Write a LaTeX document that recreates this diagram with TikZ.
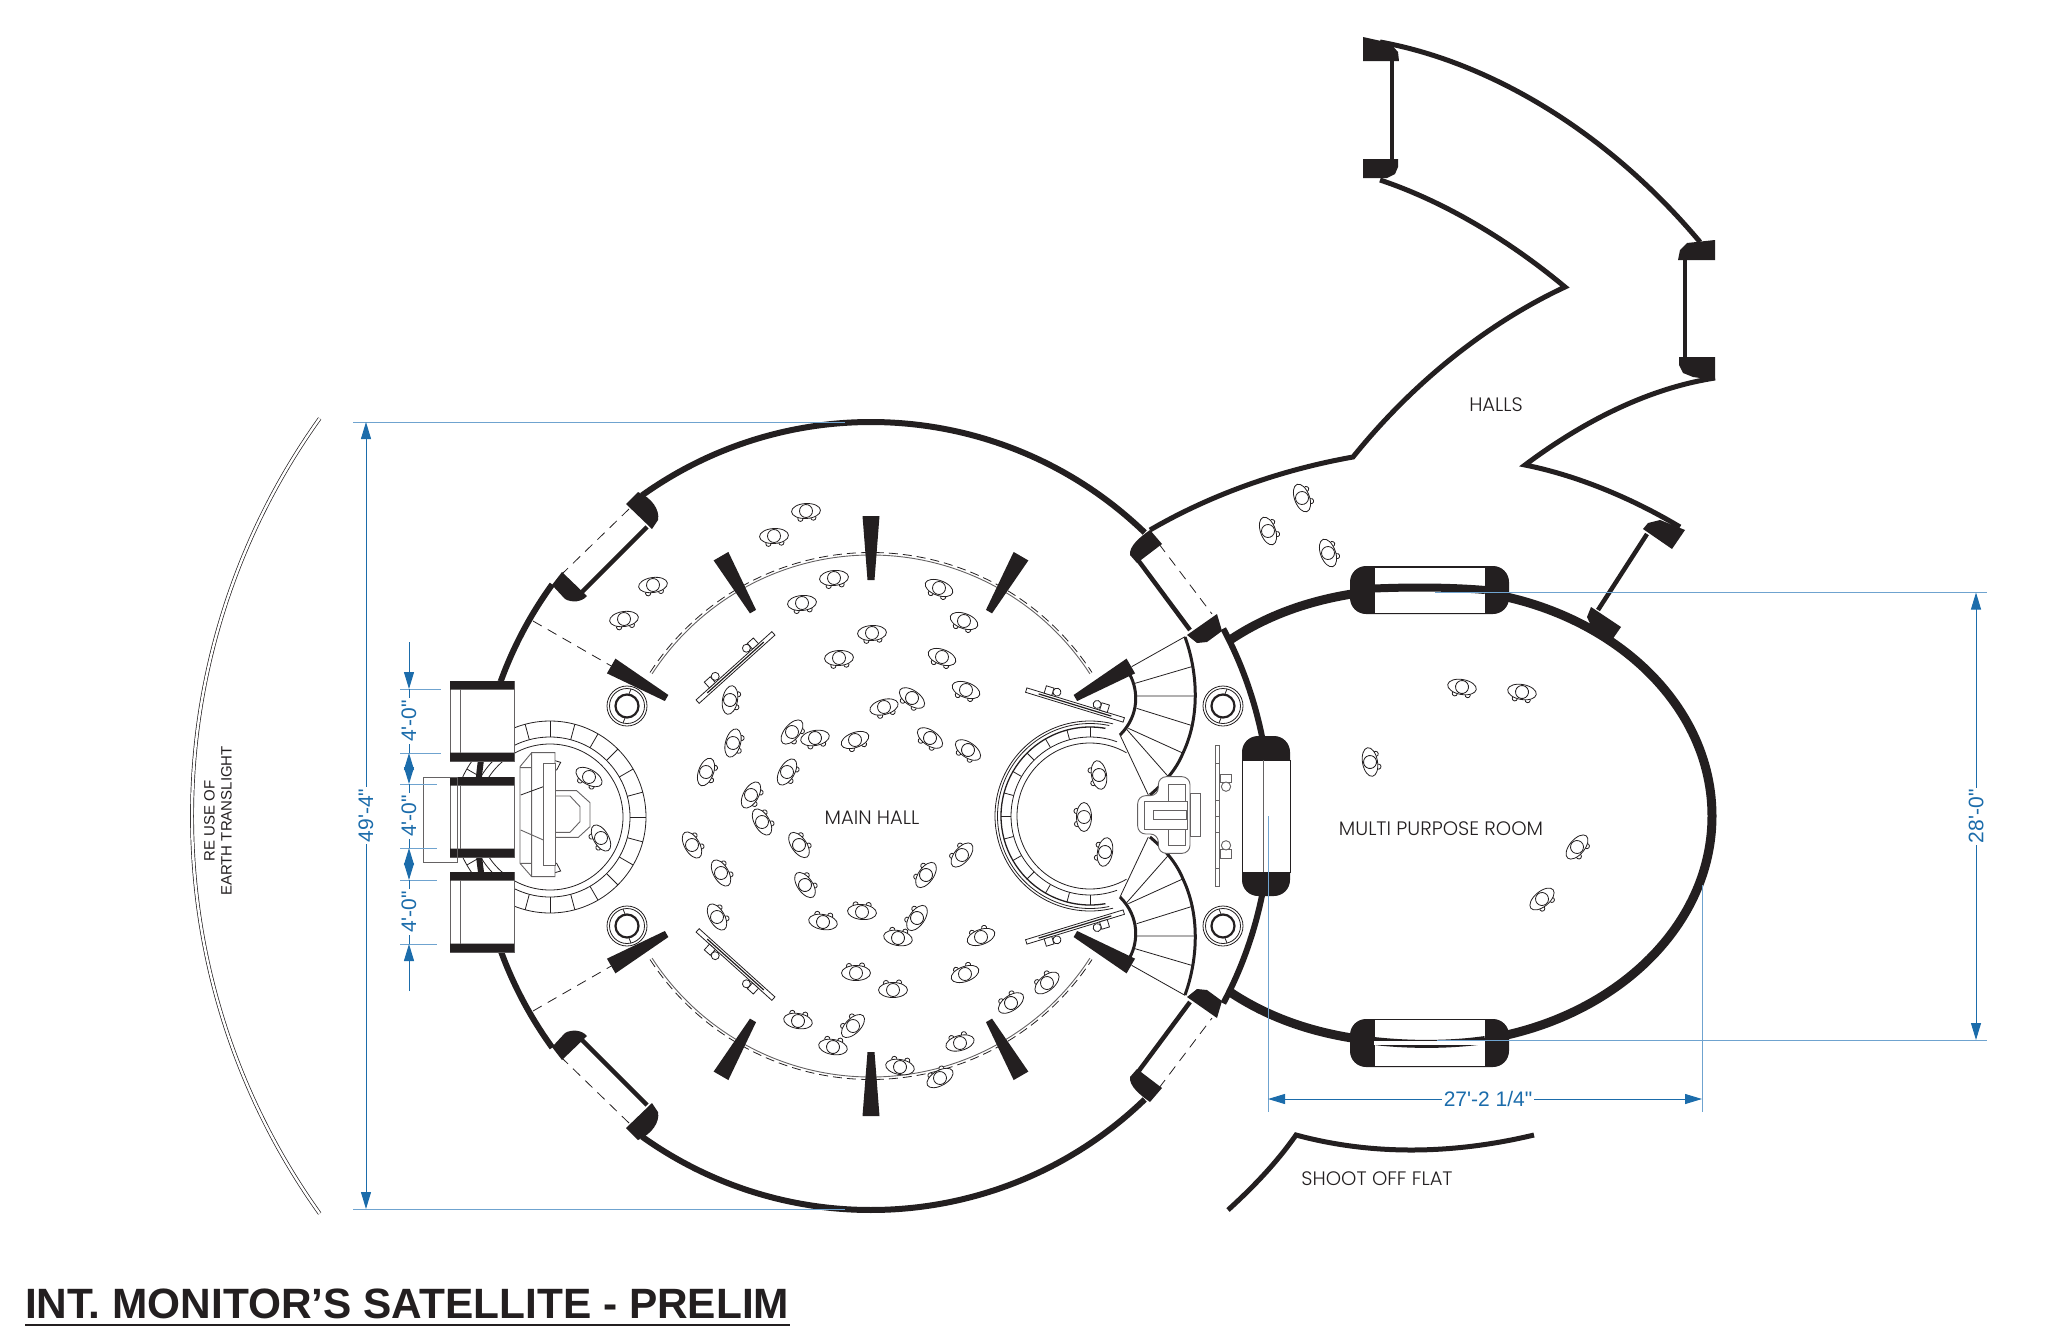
\documentclass[tikz,border=0pt]{standalone}
\usepackage{fontspec}
\setmainfont{Liberation Sans}
\newfontfamily\dimfont{Liberation Sans}
\newfontfamily\planfont{Poppins Light}
\usetikzlibrary{arrows.meta}
\definecolor{ink}{HTML}{231F20}
\definecolor{dimblue}{HTML}{1B6CAB}
\definecolor{extblue}{HTML}{6FA3CF}
\tikzset{
  wall/.style = {draw=ink, line width=6pt},
  roomwall/.style = {draw=ink, line width=9pt},
  hallwall/.style = {draw=ink, line width=5pt},
  doorbar/.style = {draw=ink, line width=4.5pt},
  stairwall/.style = {draw=ink, line width=3pt},
  thinline/.style = {draw=ink, line width=0.8pt},
  grayline/.style = {draw=ink!70, line width=0.9pt},
  swing/.style = {draw=ink, line width=0.8pt, dash pattern=on 10pt off 7pt},
  jamb/.style = {fill=ink},
  extline/.style = {draw=extblue, line width=0.9pt},
  dimline/.style = {draw=dimblue, line width=1pt, {Triangle[length=17pt,width=10pt]}-{Triangle[length=17pt,width=10pt]}},
  dimend/.style = {draw=dimblue, line width=1pt, -{Triangle[length=17pt,width=10pt]}},
  dimlabel/.style = {text=dimblue, fill=white, inner sep=2pt, font=\dimfont\fontsize{21}{24}\selectfont},
  planlabel/.style = {text=ink, inner sep=0pt, font=\planfont\fontsize{19.5}{22}\selectfont},
  leftend/.style = {shift={(400,600)}, scale=1/3},
  rightend/.style = {shift={(1000,620)}, scale=1/3}
}
\newcommand{\person}[3]{%
  \begin{scope}[shift={(#1,#2)}, rotate=#3]
    \draw[thinline, fill=white] (-6,7.5) circle (2.6);
    \draw[thinline, fill=white] (7,7) circle (2.6);
    \draw[thinline, fill=white] (0,0) ellipse (14.5 and 7.5);
    \draw[thinline, fill=white] (0,0) circle (6.5);
  \end{scope}}
\newcommand{\hallwedge}[1]{%
  \begin{scope}[shift={(hall)}, rotate=#1]
    \fill[ink] (236,-3.5) -- (236,3.5) -- (300,8.5) -- (300,-8.5) -- cycle;
  \end{scope}}
\newcommand{\roundcolumn}[2]{%
  \begin{scope}[shift={(#1,#2)}]
    \draw[thinline] (0,0) circle (20);
    \draw[thinline] (0,0) circle (17.5);
    \draw[draw=ink, line width=2.2pt] (0,0) circle (11.5);
    \draw[thinline] (2,-12) -- (4,-17) (-2,12) -- (-4,17);
  \end{scope}}
\newcommand{\bench}[3]{%
  \begin{scope}[shift={(#1,#2)}, rotate=#3]
    \draw[thinline, fill=white] (-51,-2.3) rectangle (51,2.3);
    \draw[draw=ink, line width=1.2pt] (-38,0) -- (38,0);
    \draw[thinline, fill=white] (-33,-2.3) rectangle (-25,-10);
    \draw[thinline, fill=white] (-21,-7) circle (4);
    \draw[thinline, fill=white] (33,-2.3) rectangle (25,-10);
    \draw[thinline, fill=white] (21,-7) circle (4);
  \end{scope}}
\newcommand{\wallpanel}[1]{%
  \begin{scope}[shift={(450,#1)}]
    \draw[grayline, fill=white] (0,0) rectangle (64,80);
    \fill[ink] (0,0) rectangle (64,8.5) (0,71.5) rectangle (64,80);
    \draw[grayline] (10,8) -- (10,72);
  \end{scope}}
\newcommand{\halfplan}{%
  \draw[wall] (hall) ++(-46:394) arc (-46:-125.5:394);
  \draw[wall] (hall) ++(-144:394) arc (-144:-160:394);
  \draw[wall] (hall) ++(-28:399) arc (-28:-11.5:399);
  \draw[grayline] (hall) ++(-147:261) arc (-147:-33:261);
  \draw[thinline, dash pattern=on 9pt off 5pt] (hall) ++(-147:263.5) arc (-147:-33:263.5);
  \hallwedge{-150}
  \hallwedge{-120}
  \hallwedge{-90}
  \hallwedge{-60}
  \hallwedge{-30}
  \fill[jamb] (626,504) -- (638,492) .. controls (652,498) and (660,510) .. (658,520) -- (652,529) -- cycle;
  \fill[jamb] (552,585) -- (562,572) -- (587,596) .. controls (582,602) and (572,603) .. (565,599) -- cycle;
  \draw[doorbar] (647,527) -- (582,592);
  \draw[swing] (629,509) -- (563,573);
  \draw[swing] (533,621) -- (613,667);
  \fill[jamb] (1150,530) -- (1162,544) -- (1137,563) -- (1130,555) .. controls (1129,546) and (1140,537) .. cycle;
  \fill[jamb] (1187,635) -- (1197,643) -- (1207,642) -- (1222,631) -- (1217,614) -- cycle;
  \draw[doorbar] (1138,560) -- (1190,630);
  \draw[swing] (1159,544) -- (1212,614);
  \roundcolumn{627}{706}
  \roundcolumn{1223}{706}
  \bench{735.5}{667.5}{-42}
  \bench{1075}{705}{17}
  \begin{scope}[rightend]
    \draw[thinline] (395,140) -- (555,50) (405,190) -- (575,140) (410,228) -- (590,228)
      (410,265) -- (580,318) (385,325) -- (550,400) (380,328) -- (505,470) (360,345) -- (445,525);
    \draw[grayline, fill=white] (645,377) rectangle (659,588);
    \draw[grayline] (645,430) -- (659,430) (645,540) -- (659,540);
    \draw[grayline] (660,462) rectangle (693,488);
    \draw[grayline, fill=white] (678,500) circle (14);
  \end{scope}
  \draw[stairwall] (1185,637) .. controls (1197,670) and (1201,715) .. (1183,753)
    .. controls (1176,770) and (1165,782) .. (1150,795);
  \draw[stairwall] (1130,675) .. controls (1138,690) and (1140,715) .. (1120,735);
  \draw[thinline] (dais) ++(-180:95) arc (-180:-76:95);
  \draw[thinline] (dais) ++(-180:92.5) arc (-180:-78:92.5);
  \draw[draw=ink, line width=1.3pt] (dais) ++(-180:89) arc (-180:-80:89);
  \draw[thinline] (dais) ++(-180:79) arc (-180:-70:79);
  \draw[thinline] (dais) ++(-180:73) arc (-180:-60:73);
  \foreach \a in {-90,-105,...,-180}{
    \draw[thinline] (dais) ++(\a:79) -- ++(\a:10);
  }
}
\begin{document}
\begin{tikzpicture}[x=1pt, y=1pt, yscale=-1]
  \useasboundingbox (0,0) rectangle (2070,1344);
  \coordinate (hall) at (871,816);
  \coordinate (dais) at (1090,816);

  \draw[thinline, double=white, double distance=2.4pt, line width=0.7pt] (875,816) ++(144.4:683) arc (144.4:215.6:683);

  \draw[thinline] (550,817) circle (96) (550,817) circle (80) (550,817) circle (73);
  \foreach \a in {0,15,...,345}{
    \draw[thinline] (550,817) ++(\a:80) -- ++(\a:16);
  }
  \draw[wall] (hall) ++(160:394) arc (160:200:394);

  \begin{scope}
    \halfplan
  \end{scope}
  \begin{scope}[shift={(0,1632)}, yscale=-1]
    \halfplan
  \end{scope}

  \wallpanel{681}
  \wallpanel{777}
  \wallpanel{872}
  \draw[grayline] (423,777) rectangle (457,862);

  \begin{scope}[leftend]
    \draw[thinline] (458,480) -- (482,487) -- (470,510) -- (462,510);
    \draw[thinline] (458,820) -- (482,813) -- (470,790) -- (462,790);
    \draw[grayline, fill=white] (395,458) -- (465,458) -- (465,830) -- (395,830) -- (360,790) -- (360,500) -- cycle;
    \draw[grayline] (395,458) -- (395,830) (360,503) -- (395,503) (360,790) -- (395,790) (362,690) -- (430,720);
    \draw[thinline] (362,585) -- (430,560);
    \draw[grayline, fill=white] (430,490) rectangle (465,795);
    \draw[grayline] (465,572) -- (530,572) -- (570,608) -- (570,680) -- (535,712) -- (465,712);
    \draw[grayline] (465,588) -- (510,588) -- (540,620) -- (540,665) -- (510,697) -- (465,697);
  \end{scope}

  \draw[roomwall] (1230,640) .. controls (1290,600) and (1360,588) .. (1430,588.5)
    arc[start angle=-90, end angle=90, x radius=282, y radius=227.5]
    .. controls (1360,1044) and (1290,1032) .. (1230,992);

  \fill[ink, rounded corners=16pt] (1350,566) rectangle (1509,614);
  \fill[ink, rounded corners=16pt] (1350,1019) rectangle (1509,1067);
  \draw[thinline, fill=white] (1374,567) rectangle (1485,613);
  \draw[thinline, fill=white] (1374,1019.5) rectangle (1485,1066.5);
  \draw[draw=ink, line width=8pt] (1374,588.5) .. controls (1410,587) and (1450,587) .. (1485,590);
  \draw[draw=ink, line width=8pt] (1374,1041) .. controls (1410,1045) and (1450,1045) .. (1485,1040);
  \fill[white] (1374,1040.5) rectangle (1485,1045);

  \fill[ink, rounded corners=16pt] (1242,736) rectangle (1290,896);
  \draw[thinline, fill=white] (1242,760) rectangle (1290,872);
  \draw[grayline] (1263,760) -- (1263,872);

  \begin{scope}[rightend]
    \draw[grayline, fill=white, rounded corners=8pt] (475,470) -- (570,470) -- (570,700) -- (475,700) -- (475,642) -- (413,642) -- (413,527) -- (475,527) -- cycle;
    \draw[grayline, fill=white] (570,520) rectangle (600,648);
    \draw[grayline, fill=white] (505,492) rectangle (557,677);
    \draw[grayline, fill=white] (432,543) rectangle (563,628);
    \draw[grayline] (460,572) rectangle (560,598);
  \end{scope}

  \draw[hallwall] (1150,530) .. controls (1210,495) and (1280,470) .. (1353,457)
    .. controls (1415,380) and (1490,322) .. (1565,287)
    .. controls (1505,237) and (1440,200) .. (1380,180);
  \draw[hallwall] (1380,42) .. controls (1480,60) and (1600,123) .. (1700,242);
  \draw[hallwall] (1715,378) .. controls (1650,388) and (1585,420) .. (1525,465)
    .. controls (1575,475) and (1630,497) .. (1680,527);
  \fill[jamb] (1363,37) -- (1390,43) -- (1398,52) -- (1399,61) -- (1363,61) -- cycle;
  \fill[jamb] (1363,159) -- (1398,159) -- (1398,167) -- (1395,174) -- (1387,178) -- (1363,178) -- cycle;
  \draw[doorbar] (1392,61) -- (1392,160);
  \fill[jamb] (1678,260) -- (1680,250) -- (1687,243) -- (1715,240) -- (1715,260) -- cycle;
  \fill[jamb] (1679,357) -- (1715,357) -- (1715,380) -- (1693,377) -- (1683,373) -- (1679,365) -- cycle;
  \draw[doorbar] (1685,260) -- (1685,357);
  \fill[jamb] (1643,529) -- (1648,523) -- (1660,520) -- (1685,530) -- (1672,549) -- cycle;
  \fill[jamb] (1591,607) -- (1587,617) -- (1592,628) -- (1612,640) -- (1621,627) -- cycle;
  \draw[doorbar] (1647,534) -- (1598,610);

  \draw[hallwall] (1534,1135) .. controls (1450,1155) and (1370,1155) .. (1296,1135)
    .. controls (1275,1165) and (1250,1190) .. (1228,1210);

  \person{806}{511}{-3}
  \person{774}{536}{-3}
  \person{653}{585}{-8}
  \person{624}{619}{-8}
  \person{834}{578}{-5}
  \person{802}{603}{-5}
  \person{872}{633}{-3}
  \person{839}{658}{-3}
  \person{939}{588}{20}
  \person{964}{621}{20}
  \person{942}{657}{20}
  \person{966}{690}{20}
  \person{912}{698}{35}
  \person{884}{707}{-15}
  \person{930}{738}{35}
  \person{968}{750}{35}
  \person{855}{740}{-20}
  \person{815}{738}{-10}
  \person{792}{732}{-50}
  \person{787}{772}{-60}
  \person{733}{743}{-75}
  \person{730}{700}{-80}
  \person{706}{772}{-70}
  \person{751}{795}{-60}
  \person{762}{822}{-120}
  \person{692}{845}{-120}
  \person{721}{873}{-120}
  \person{717}{917}{-120}
  \person{799}{845}{-125}
  \person{805}{885}{-125}
  \person{962}{855}{130}
  \person{926}{875}{125}
  \person{917}{918}{125}
  \person{862}{912}{185}
  \person{823}{922}{190}
  \person{898}{938}{190}
  \person{981}{937}{160}
  \person{965}{974}{160}
  \person{1047}{983}{140}
  \person{1011}{1003}{145}
  \person{856}{973}{180}
  \person{893}{990}{180}
  \person{798}{1021}{190}
  \person{853}{1026}{135}
  \person{833}{1047}{190}
  \person{960}{1043}{165}
  \person{900}{1067}{190}
  \person{940}{1078}{150}
  \person{589}{777}{30}
  \person{601}{838}{60}
  \person{1099}{775}{80}
  \person{1084}{817}{90}
  \person{1105}{852}{100}
  \person{1302}{498}{-110}
  \person{1268}{531}{-110}
  \person{1328}{553}{-110}
  \person{1462}{687}{10}
  \person{1522}{692}{10}
  \person{1370}{762}{-100}
  \person{1577}{847}{-50}
  \person{1542}{899}{-40}

  \coordinate (extNW) at (353,422);
  \coordinate (extNE) at (845,422);
  \coordinate (extSW) at (353,1209);
  \coordinate (extSE) at (845,1209);
  \draw[extline] (extNW) -- (extNE);
  \draw[extline] (extSW) -- (extSE);
  \draw[dimline] (366,422) -- node[dimlabel, rotate=90] (overall) {49'-4"} (366,1209);

  \draw[extline] (1435,592.5) -- (1987,592.5);
  \draw[extline] (1437,1040) -- (1987,1040);
  \draw[dimline] (1976,592.5) -- node[dimlabel, rotate=90] (roomdepth) {28'-0"} (1976,1040);

  \draw[draw=extblue, line width=0.9pt] (1268,816) -- (1268,1112);
  \draw[extline] (1702,885) -- (1702,1112);
  \draw[dimline] (1268,1099) -- node[dimlabel, pos=0.507] (roomwidth) {27'-2 1/4"} (1702,1099);

  \draw[extline] (400,689) -- (441,689);
  \draw[extline] (400,753) -- (441,753);
  \draw[extline] (400,784) -- (437,784);
  \draw[extline] (400,848) -- (437,848);
  \draw[extline] (400,880) -- (437,880);
  \draw[extline] (400,944) -- (437,944);
  \coordinate (topstub) at (409,642);
  \coordinate (botstub) at (409,991);
  \draw[dimend] (topstub) -- (409,689);
  \draw[dimend] (botstub) -- (409,944);
  \draw[draw=dimblue, line width=1pt] (409,689) -- node[dimlabel, rotate=90] (panelA) {4'-0"} (409,753);
  \draw[dimline] (409,753) -- (409,784);
  \draw[draw=dimblue, line width=1pt] (409,784) -- node[dimlabel, rotate=90] (panelB) {4'-0"} (409,848);
  \draw[dimline] (409,848) -- (409,880);
  \draw[draw=dimblue, line width=1pt] (409,880) -- node[dimlabel, rotate=90] (panelC) {4'-0"} (409,944);

  \node (mainhall) [planlabel] at (872,818) {MAIN HALL};
  \node (halls) [planlabel] at (1496,405) {HALLS};
  \node (mproom) [planlabel] at (1441,829) {MULTI PURPOSE ROOM};
  \node (shootoff) [planlabel] at (1377,1179) {SHOOT OFF FLAT};
  \node (translight) [rotate=90, align=center, text=ink, font=\fontsize{15}{17}\selectfont] at (218,821) {RE USE OF\\EARTH TRANSLIGHT};
  \node (title) [anchor=west, inner sep=0pt, text=ink, font=\bfseries\fontsize{42.4}{48}\selectfont] at (25,1304) {INT. MONITOR’S SATELLITE - PRELIM};
  \draw[draw=ink, line width=2.5pt] (25,1325) -- (790,1325);
\end{tikzpicture}
\end{document}
